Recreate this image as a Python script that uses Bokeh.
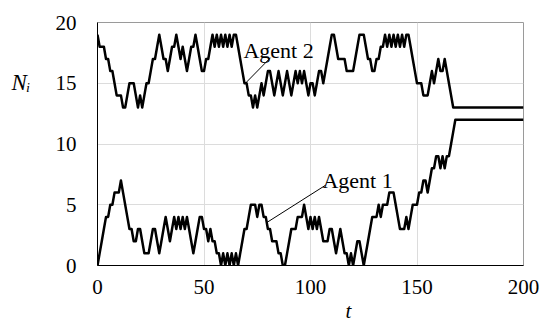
from bokeh.plotting import figure
from bokeh.models import Range1d, FixedTicker, Label, LinearAxis, Title
from bokeh.embed import file_html
from bokeh.resources import INLINE

# ---- data ----
agent1_n = [0, 1, 2, 3, 4, 4, 5, 5, 6, 6, 6, 7, 6, 5, 4, 3, 3, 2, 2, 3,
            3, 2, 1, 1, 1, 2, 3, 3, 2, 1, 2, 3, 4, 3, 2, 3, 4, 3, 4, 3,
            4, 3, 4, 3, 2, 1, 2, 3, 4, 4, 3, 3, 2, 3, 2, 2, 1, 1, 0, 1,
            0, 1, 0, 1, 0, 1, 0, 1, 2, 3, 3, 4, 5, 5, 5, 4, 5, 5, 4, 4,
            3, 3, 2, 2, 2, 1, 1, 0, 0, 1, 2, 3, 3, 3, 4, 4, 4, 5, 4, 3,
            4, 3, 4, 3, 4, 3, 2, 2, 2, 3, 3, 2, 1, 2, 3, 2, 1, 1, 0, 1,
            0, 1, 2, 2, 1, 0, 1, 2, 3, 4, 4, 4, 5, 4, 5, 5, 5, 6, 6, 6,
            5, 4, 3, 3, 3, 4, 3, 4, 5, 5, 5, 6, 6, 7, 7, 6, 7, 8, 8, 9,
            9, 8, 9, 8, 9, 9, 10, 11, 12]
agent2_n = [19, 18, 18, 18, 17, 17, 16, 16, 15, 14, 14, 14, 13, 13, 14, 15, 15, 15, 14, 13,
            14, 13, 14, 15, 15, 16, 17, 17, 18, 19, 18, 17, 17, 16, 17, 18, 18, 19, 18, 17,
            18, 17, 16, 17, 18, 18, 19, 18, 17, 16, 16, 17, 17, 18, 19, 18, 19, 18, 19, 18,
            19, 18, 19, 18, 19, 19, 18, 17, 16, 15, 15, 14, 14, 13, 14, 13, 14, 15, 14, 15,
            16, 16, 15, 14, 15, 16, 15, 14, 15, 16, 15, 14, 15, 16, 15, 16, 15, 16, 15, 14,
            15, 15, 14, 15, 16, 16, 15, 16, 17, 18, 19, 19, 18, 17, 17, 17, 17, 16, 16, 16,
            16, 17, 18, 19, 19, 19, 18, 17, 17, 16, 16, 17, 17, 18, 18, 19, 18, 19, 18, 19,
            18, 19, 18, 19, 18, 19, 19, 18, 17, 16, 15, 15, 15, 14, 14, 14, 15, 16, 15, 16,
            17, 16, 16, 17, 16, 15, 14, 13, 13]
t_end = 200
x_ticks = [0, 50, 100, 150, 200]
y_ticks = [0, 5, 10, 15, 20]
series_names = ["Agent 1", "Agent 2"]

t1 = list(range(len(agent1_n))) + [t_end]
n1 = agent1_n + [agent1_n[-1]]
t2 = list(range(len(agent2_n))) + [t_end]
n2 = agent2_n + [agent2_n[-1]]

SERIF = "Liberation Serif"

p = figure(width=540, height=325, output_backend="svg", toolbar_location=None,
           x_range=Range1d(0, 200), y_range=Range1d(0, 20),
           min_border_left=97, min_border_right=17, min_border_top=22,
           min_border_bottom=60)
p.background_fill_color = "white"
p.border_fill_color = "white"
p.outline_line_color = "#9a9a9a"
p.outline_line_width = 1

for ax, ticks in ((p.xaxis, x_ticks), (p.yaxis, y_ticks)):
    ax.ticker = FixedTicker(ticks=ticks)
    ax.major_tick_line_color = None
    ax.minor_tick_line_color = None
    ax.major_tick_out = 0
    ax.major_tick_in = 0
    ax.minor_tick_out = 0
    ax.axis_line_color = "black"
    ax.axis_line_width = 1
    ax.major_label_text_font = SERIF
    ax.major_label_text_font_size = "21px"
    ax.major_label_text_color = "black"
p.xaxis.major_label_standoff = 14
p.yaxis.major_label_standoff = 21

p.xgrid.ticker = FixedTicker(ticks=x_ticks)
p.ygrid.ticker = FixedTicker(ticks=y_ticks)
p.grid.grid_line_color = "#dcdcdc"
p.grid.grid_line_width = 1

p.line(t2, n2, line_color="black", line_width=2.5, line_join="round")
p.line(t1, n1, line_color="black", line_width=2.5, line_join="round")

# annotations with leader lines
p.segment(x0=[70.0, 79.7], y0=[15.1, 3.56], x1=[81.2, 107.0], y1=[17.1, 6.6],
          line_color="black", line_width=1)
p.add_layout(Label(x=68.5, y=17.7, text=series_names[1], text_font=SERIF,
                   text_font_size="22px", text_color="black",
                   text_baseline="alphabetic"))
p.add_layout(Label(x=105.6, y=7.0, text=series_names[0], text_font=SERIF,
                   text_font_size="22px", text_color="black",
                   text_baseline="alphabetic"))

props = LinearAxis.properties()

# y title "N_i" (horizontal, near the top of the left side)
ny = LinearAxis(ticker=FixedTicker(ticks=[]))
ny.axis_line_color = None
ny.major_tick_line_color = None
ny.minor_tick_line_color = None
ny.major_tick_out = 0
ny.minor_tick_out = 0
ny.major_label_text_font_size = "0px"
ny.axis_label = "\n\n\n\nN\u1d62"
ny.axis_label_text_font = SERIF
ny.axis_label_text_font_style = "italic"
ny.axis_label_text_font_size = "23px"
ny.axis_label_text_color = "black"
ny.axis_label_standoff = 22
if "axis_label_orientation" in props:
    ny.axis_label_orientation = "horizontal"
if "axis_label_align" in props:
    ny.axis_label_align = "end"
p.add_layout(ny, "left")

# x title "t"
p.add_layout(Title(text="t", align="left", offset=248, standoff=0,
                   text_font=SERIF, text_font_style="italic",
                   text_font_size="21px", text_color="black"), "below")

open("out.html", "w").write(file_html(p, INLINE))
